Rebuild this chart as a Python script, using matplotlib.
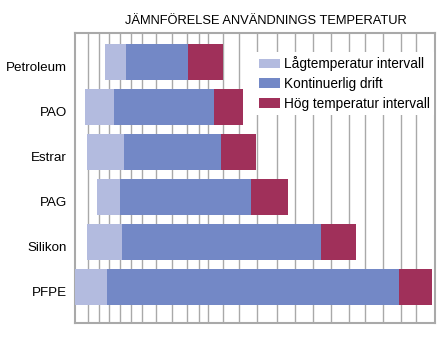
import matplotlib
matplotlib.use('Agg')
import matplotlib.pyplot as plt
import matplotlib.transforms as mtransforms
import numpy as np

# Data (arbitrary temperature scale 0..360)
categories = ['Petroleum', 'PAO', 'Estrar', 'PAG', 'Silikon', 'PFPE']
low_start = [30.3, 10, 12, 22, 12, 0]
cont_start = [51, 38.7, 49, 44.7, 47, 32.3]
high_start = [112.7, 139.3, 145.7, 176, 246.3, 324.7]
high_end = [147.7, 168.3, 180.7, 213.3, 281.3, 357.7]
gridlines = [13.3, 24.5, 33.8, 45, 56.3, 67.5, 81, 96.7, 112.5, 123.7, 132.7,
             148.3, 164.2, 182.5, 202.3, 220.3, 238.3, 256.3, 274.3, 290.5,
             308.3, 325.8, 341.7]
labels = ['Lågtemperatur intervall', 'Kontinuerlig drift', 'Hög temperatur intervall']

myfont = ['Liberation Sans', 'DejaVu Sans']
c_low = '#b3bbdf'
c_cont = '#7388c6'
c_high = '#a0305a'
gridcolor = '#a9a9a9'

fig = plt.figure(figsize=(4.44, 3.57), dpi=100)
ax = fig.add_axes([75 / 444, 1 - 322.7 / 357, 359.7 / 444, 289.4 / 357])

y = np.arange(len(categories))
low_w = np.array(cont_start) - np.array(low_start)
cont_w = np.array(high_start) - np.array(cont_start)
high_w = np.array(high_end) - np.array(high_start)

ax.barh(y, low_w, left=low_start, height=0.79, color=c_low, label=labels[0], zorder=3)
ax.barh(y, cont_w, left=cont_start, height=0.79, color=c_cont, label=labels[1], zorder=3)
ax.barh(y, high_w, left=high_start, height=0.79, color=c_high, label=labels[2], zorder=3)

for g in gridlines:
    ax.axvline(g, color=gridcolor, linewidth=1.0, zorder=1)

ax.set_xlim(0, 360)
ax.set_ylim(5.79, -0.64)
ax.set_xticks([])
ax.set_yticks(y)
ax.set_yticklabels(categories, fontfamily=myfont, fontsize=9.6)
ax.tick_params(axis='y', length=0, pad=6)
# labels sit a little below the bar centres in the original
shift = mtransforms.ScaledTranslation(0, -4 / 100, fig.dpi_scale_trans)
for lab in ax.get_yticklabels():
    lab.set_transform(lab.get_transform() + shift)
for s in ax.spines.values():
    s.set_color(gridcolor)
    s.set_linewidth(1.5)

fig.text(266 / 444, 1 - 21 / 357, 'JÄMNFÖRELSE ANVÄNDNINGS TEMPERATUR', ha='center', va='center',
         fontfamily=myfont, fontsize=9.3)

leg = ax.legend(loc='upper left', bbox_to_anchor=((255 - 75) / 359.7, 1 - (52 - 33.3) / 289.4),
                frameon=True, facecolor='white', edgecolor='none', framealpha=1, fancybox=False,
                prop={'family': myfont, 'size': 9.8}, handlelength=1.5, handleheight=0.7,
                handletextpad=0.3, labelspacing=0.42, borderpad=0.3, borderaxespad=0)
leg.set_zorder(5)

fig.savefig('out.png', dpi=100)
